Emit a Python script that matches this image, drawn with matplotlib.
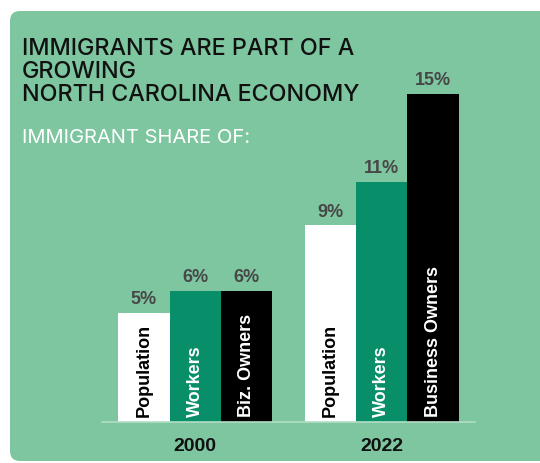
import matplotlib.pyplot as plt
from matplotlib.patches import FancyBboxPatch
from matplotlib.transforms import IdentityTransform

# Data
years = ['2000', '2022']
series = ['Population', 'Workers', 'Business Owners']
values = {
    'Population': [5, 9],
    'Workers': [6, 11],
    'Business Owners': [6, 15],
}
bar_labels = {
    'Population': ['Population', 'Population'],
    'Workers': ['Workers', 'Workers'],
    'Business Owners': ['Biz. Owners', 'Business Owners'],
}

bg_green = '#7dc6a0'
colors = {'Population': '#ffffff', 'Workers': '#088f6a', 'Business Owners': '#000000'}
text_colors = {'Population': '#000000', 'Workers': '#ffffff', 'Business Owners': '#ffffff'}

fig = plt.figure(figsize=(5.4, 4.64), dpi=100)
fig.patch.set_facecolor('white')

# Green rounded panel (pixel coordinates)
panel = FancyBboxPatch((10, 2), 560, 450, boxstyle='round,pad=0,rounding_size=10',
                       facecolor=bg_green, edgecolor='none', transform=IdentityTransform(),
                       zorder=-10)
fig.add_artist(panel)

ax = fig.add_axes([102 / 540, 41 / 464, 373 / 540, 371.5 / 464])
ax.set_facecolor('none')

width = 0.276
offsets = [-width, 0, width]
for s, off in zip(series, offsets):
    xs = [i + off for i in range(len(years))]
    bars = ax.bar(xs, values[s], width=width, color=colors[s], edgecolor='none', zorder=2)
    for bar, v, lab in zip(bars, values[s], bar_labels[s]):
        cx = bar.get_x() + bar.get_width() / 2
        ax.annotate(f'{v}%', (cx, v), xytext=(0, 7), textcoords='offset points',
                    ha='center', va='baseline', fontsize=13, fontweight='bold',
                    color='#474747', family='Liberation Sans')
        ax.annotate(lab, (cx, 0), xytext=(0, 4.3), textcoords='offset points',
                    rotation=90, ha='center', va='bottom', fontsize=13,
                    fontweight='bold', color=text_colors[s], family='Liberation Sans')

ax.set_xlim(-0.5, 1.5)
ax.set_ylim(0, 17)
ax.set_yticks([])
ax.set_xticks(range(len(years)))
ax.set_xticklabels(years, fontsize=14, fontweight='bold', family='Liberation Sans', color='#111111')
ax.tick_params(axis='x', length=0, pad=11)
for side in ['top', 'left', 'right']:
    ax.spines[side].set_visible(False)
ax.spines['bottom'].set_color('#b3ddc6')
ax.spines['bottom'].set_linewidth(1.2)

# Titles
title_lines = ['IMMIGRANTS ARE PART OF A', 'GROWING', 'NORTH CAROLINA ECONOMY']
title_baselines = [55, 78, 101]
for line, yb in zip(title_lines, title_baselines):
    fig.text(22 / 540, 1 - yb / 464, line, ha='left', va='baseline', fontsize=16.8,
             family='Inter', fontweight='medium', color='#111111')
fig.text(22 / 540, 1 - 143.5 / 464, 'IMMIGRANT SHARE OF:', ha='left', va='baseline',
         fontsize=14.5, family='Inter', color='white')

fig.savefig('out.png', dpi=100)
